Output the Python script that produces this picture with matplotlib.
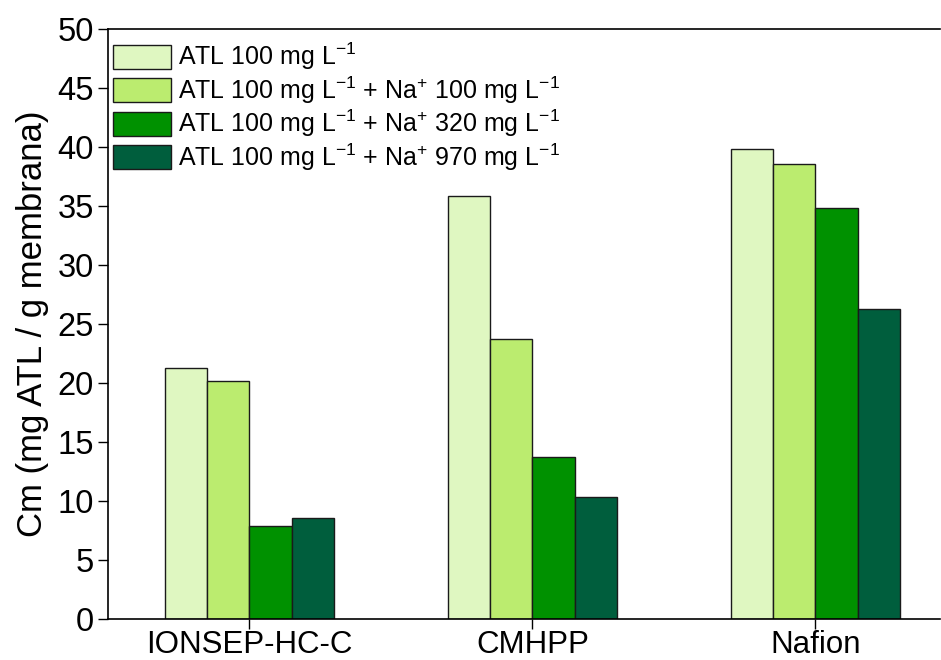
import matplotlib
matplotlib.use("Agg")
import matplotlib.pyplot as plt
import numpy as np

plt.rcParams['font.family'] = ['Liberation Sans', 'DejaVu Sans']

categories = ["IONSEP-HC-C", "CMHPP", "Nafion"]
series_labels = [
    r"ATL 100 mg L$^{-1}$",
    r"ATL 100 mg L$^{-1}$ + Na$^{+}$ 100 mg L$^{-1}$",
    r"ATL 100 mg L$^{-1}$ + Na$^{+}$ 320 mg L$^{-1}$",
    r"ATL 100 mg L$^{-1}$ + Na$^{+}$ 970 mg L$^{-1}$",
]
atl_only = [21.3, 35.85, 39.8]
na_100 = [20.2, 23.7, 38.6]
na_320 = [7.9, 13.7, 34.85]
na_970 = [8.6, 10.3, 26.25]
colors = ["#DFF7C1", "#BBEC6F", "#009100", "#005E3D"]

plt.rcParams['mathtext.fontset'] = 'custom'
plt.rcParams['mathtext.rm'] = 'Liberation Sans'
plt.rcParams['mathtext.it'] = 'Liberation Sans'

fig = plt.figure(figsize=(9.41, 6.6), dpi=100)
ax = fig.add_axes([108/941, 41/660, 832/941, 590/660])

x = np.arange(len(categories))
w = 0.15
all_series = [atl_only, na_100, na_320, na_970]
for i, (vals, c, lab) in enumerate(zip(all_series, colors, series_labels)):
    ax.bar(x + (i - 1.5) * w, vals, width=w, color=c, edgecolor="#1a1a1a",
           linewidth=1.0, label=lab)

ax.set_xlim(-0.5, 2.44)
ax.set_ylim(0, 50)
ax.set_yticks(np.arange(0, 51, 5))
ax.set_xticks(x)
ax.set_xticklabels(categories)
ax.tick_params(axis='both', direction='out', length=7, width=1.0, labelsize=23.5)
ax.tick_params(axis='y', pad=3)
ax.tick_params(axis='x', pad=1, labelsize=22.5)
ax.spines['right'].set_visible(False)
for s in ['left', 'bottom', 'top']:
    ax.spines[s].set_linewidth(1.2)
ax.set_ylabel("Cm (mg ATL / g membrana)", fontsize=25, labelpad=6)

leg = ax.legend(loc='upper left', bbox_to_anchor=(0.0, 1.0 - 7/590), frameon=False,
                fontsize=18, handlelength=2.3, handleheight=1.1,
                handletextpad=0.3, labelspacing=0.08, borderaxespad=0.1,
                borderpad=0.1)

fig.savefig("out.png", dpi=100)
